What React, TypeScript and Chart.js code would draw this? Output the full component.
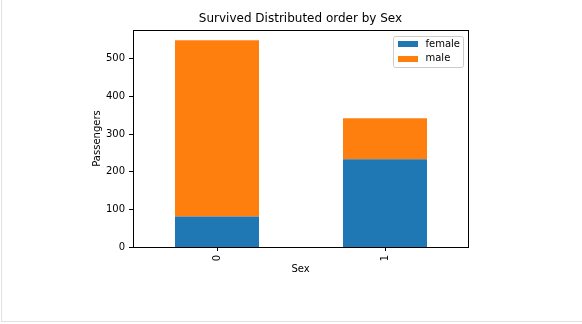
import React, { useEffect, useRef } from "react";
import { Chart, registerables } from "chart.js";

Chart.register(...registerables);

const categories = ["0", "1"];
const femaleValues = [81, 233];
const maleValues = [468, 109];
const seriesNames = ["female", "male"];
const seriesColors = ["#1f77b4", "#ff7f0e"];
const titleText = "Survived Distributed order by Sex";
const xTitle = "Sex";
const yTitle = "Passengers";

const FONT = "'DejaVu Sans', sans-serif";

const decorPlugin = {
  id: "decor",
  afterDraw(chart: any) {
    const { ctx, chartArea } = chart;
    const { left, right, top, bottom } = chartArea;
    const l = Math.round(left);
    const r0 = Math.round(right) - 1;
    const t = Math.round(top);
    const b = Math.round(bottom);
    ctx.save();
    // frame
    ctx.strokeStyle = "#000";
    ctx.lineWidth = 1;
    ctx.strokeRect(l + 0.5, t + 0.5, r0 - l, b - t);
    // zero tick mark on y axis
    ctx.fillStyle = "#000";
    ctx.fillRect(l - 4, Math.round(chart.scales.y.getPixelForValue(0)), 4, 1);
    // title
    const cx = (l + r0) / 2;
    ctx.font = `12px ${FONT}`;
    ctx.textAlign = "center";
    ctx.textBaseline = "middle";
    ctx.fillText(titleText, cx, t - 11);
    // axis titles
    ctx.font = `10px ${FONT}`;
    ctx.fillText(xTitle, cx, b + 22);
    ctx.save();
    ctx.translate(l - 36, (t + b) / 2);
    ctx.rotate(-Math.PI / 2);
    ctx.fillText(yTitle, 0, 0);
    ctx.restore();
    // legend
    const bx = r0 - 74.5;
    const by = t + 6.5;
    const bw = 70;
    const bh = 31;
    const r = 2;
    ctx.beginPath();
    ctx.moveTo(bx + r, by);
    ctx.lineTo(bx + bw - r, by);
    ctx.quadraticCurveTo(bx + bw, by, bx + bw, by + r);
    ctx.lineTo(bx + bw, by + bh - r);
    ctx.quadraticCurveTo(bx + bw, by + bh, bx + bw - r, by + bh);
    ctx.lineTo(bx + r, by + bh);
    ctx.quadraticCurveTo(bx, by + bh, bx, by + bh - r);
    ctx.lineTo(bx, by + r);
    ctx.quadraticCurveTo(bx, by, bx + r, by);
    ctx.closePath();
    ctx.fillStyle = "rgba(255,255,255,0.8)";
    ctx.fill();
    ctx.strokeStyle = "#cccccc";
    ctx.lineWidth = 1;
    ctx.stroke();
    ctx.textAlign = "left";
    chart.data.datasets.forEach((ds: any, i: number) => {
      const cy = t + 14 + i * 14.5;
      ctx.fillStyle = ds.backgroundColor;
      ctx.fillRect(Math.round(bx) + 4, Math.round(cy - 3), 20, 6);
      ctx.fillStyle = "#000";
      ctx.fillText(ds.label, bx + 32, cy);
    });
    ctx.restore();
  },
};

export default function App() {
  const ref = useRef<HTMLCanvasElement>(null);
  useEffect(() => {
    if (!ref.current) return;
    const totals = categories.map((_, i) => femaleValues[i] + maleValues[i]);
    const yMax = Math.max(...totals) * 1.05;
    const chart = new Chart(ref.current, {
      type: "bar",
      data: {
        labels: categories,
        datasets: [
          { label: seriesNames[0], data: femaleValues, backgroundColor: seriesColors[0], barPercentage: 0.5, categoryPercentage: 1, inflateAmount: 0 },
          { label: seriesNames[1], data: maleValues, backgroundColor: seriesColors[1], barPercentage: 0.5, categoryPercentage: 1, inflateAmount: 0 },
        ],
      },
      options: {
        animation: false,
        responsive: false,
        maintainAspectRatio: false,
        layout: { padding: { left: 0, right: 113, top: 30, bottom: 0 } },
        plugins: { legend: { display: false }, tooltip: { enabled: false }, title: { display: false } },
        scales: {
          x: {
            stacked: true,
            offset: true,
            grid: { display: true, drawOnChartArea: false, drawTicks: true, tickLength: 4, color: "#000", offset: false },
            border: { display: false },
            ticks: { minRotation: 90, maxRotation: 90, padding: 4, color: "#000", font: { family: FONT, size: 10 } },
            afterFit: (s: any) => { s.height = 77; },
          },
          y: {
            stacked: true,
            min: 0,
            max: yMax,
            grid: {
              display: true,
              drawOnChartArea: false,
              drawTicks: true,
              tickLength: 4,
              color: "#000",
              lineWidth: (c: any) => (c.tick && c.tick.value === 0 ? 0 : 1),
            },
            border: { display: false },
            ticks: { stepSize: 100, padding: 4, color: "#000", font: { family: FONT, size: 10 } },
            afterBuildTicks: (s: any) => { s.ticks = s.ticks.filter((tk: any) => tk.value % 100 === 0); },
            afterFit: (s: any) => { s.width = 133; },
          },
        },
      },
      plugins: [decorPlugin],
    });
    return () => chart.destroy();
  }, []);
  return (
    <div style={{ position: "fixed", left: 0, top: 0, width: 582, height: 324, background: "#fff" }}>
      <div style={{ position: "absolute", left: 1, top: 0, width: 581, height: 322, borderLeft: "1px solid #dde2e2", borderBottom: "1px solid #dde2e2", boxSizing: "border-box" }} />
      <canvas ref={ref} width={582} height={324} style={{ position: "absolute", left: 0, top: 0 }} />
    </div>
  );
}
